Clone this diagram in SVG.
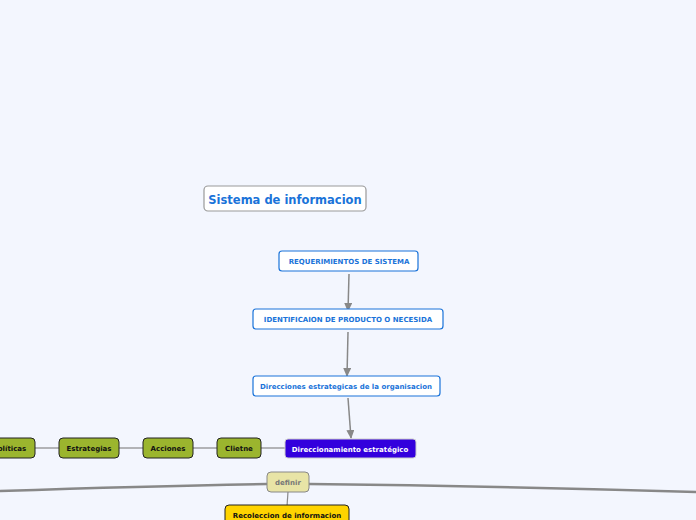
<svg xmlns="http://www.w3.org/2000/svg" width="696" height="520" viewBox="0 0 696 520">
<defs>
<marker id="ah" markerWidth="10" markerHeight="8" refX="8" refY="4" orient="auto" markerUnits="userSpaceOnUse"><path d="M0,0 L9,4 L0,8 Z" fill="#888"/></marker>
<style>
.t{font-family:"DejaVu Sans",sans-serif;font-weight:bold;text-anchor:middle}
.b{fill:#fff;stroke:#1a73d9;stroke-width:1.2}
.g{fill:#9bb52e;stroke:#222;stroke-width:1}
.c{stroke:#888;fill:none}
</style>
</defs>
<rect width="696" height="520" fill="#f3f6fe"/>
<g id="connectors">
<line class="c" stroke-width="1.5" x1="349" y1="274" x2="348" y2="311" marker-end="url(#ah)"/>
<line class="c" stroke-width="1.5" x1="348" y1="332" x2="347" y2="376" marker-end="url(#ah)"/>
<line class="c" stroke-width="1.5" x1="348" y1="398" x2="351" y2="438" marker-end="url(#ah)"/>
<line class="c" stroke-width="1.2" x1="35" y1="448" x2="59" y2="448"/>
<line class="c" stroke-width="1.2" x1="119" y1="448" x2="143" y2="448"/>
<line class="c" stroke-width="1.2" x1="193" y1="448" x2="217" y2="448"/>
<line class="c" stroke-width="1.2" x1="261" y1="448" x2="285" y2="448"/>
<path class="c" stroke-width="2.5" d="M267,484 Q150,486 0,491"/>
<path class="c" stroke-width="2.5" d="M309,484 Q500,486 696,492"/>
<line class="c" stroke-width="1.2" x1="288" y1="492" x2="287" y2="506"/>
</g>
<g id="n0"><rect x="204" y="186" width="162" height="25" rx="4" fill="#fff" stroke="#999" stroke-width="1.2"/><text class="t" x="285" y="203.5" font-size="11.5" fill="#1a73d9">Sistema de informacion</text></g>
<g id="n1"><rect class="b" x="279" y="251" width="139" height="20" rx="3"/><text class="t" x="349" y="264" font-size="7" fill="#1a73d9">REQUERIMIENTOS DE SISTEMA</text></g>
<g id="n2"><rect class="b" x="253" y="309" width="190" height="20" rx="3"/><text class="t" x="348" y="322" font-size="7" fill="#1a73d9">IDENTIFICAION DE PRODUCTO O NECESIDA</text></g>
<g id="n3"><rect class="b" x="253" y="376" width="187" height="20" rx="3"/><text class="t" x="346" y="389" font-size="7" fill="#1a73d9">Direcciones estrategicas de la organisacion</text></g>
<g id="n4"><rect x="285" y="439" width="131" height="19" rx="3" fill="#3300dd" stroke="#ccc"/><text class="t" x="350" y="451.5" font-size="7" fill="#fff">Direccionamiento estratégico</text></g>
<g id="n5"><rect class="g" x="217" y="438" width="44" height="20" rx="4"/><text class="t" x="239" y="451" font-size="7" fill="#111">Clietne</text></g>
<g id="n6"><rect class="g" x="143" y="438" width="50" height="20" rx="4"/><text class="t" x="168" y="451" font-size="7" fill="#111">Acciones</text></g>
<g id="n7"><rect class="g" x="59" y="438" width="60" height="20" rx="4"/><text class="t" x="89" y="451" font-size="7" fill="#111">Estrategias</text></g>
<g id="n8"><rect class="g" x="-10" y="438" width="45" height="20" rx="4"/><text class="t" x="12" y="451" font-size="7" fill="#111">olíticas</text></g>
<g id="n9"><rect x="267" y="472" width="42" height="20" rx="4" fill="#e8e4a6" stroke="#888"/><text class="t" x="288" y="485" font-size="7" fill="#777">definir</text></g>
<g id="n10"><rect x="225" y="505" width="124" height="22" rx="4" fill="#ffd400" stroke="#222"/><text class="t" x="287" y="518" font-size="7" fill="#111">Recoleccion de informacion</text></g>
</svg>
